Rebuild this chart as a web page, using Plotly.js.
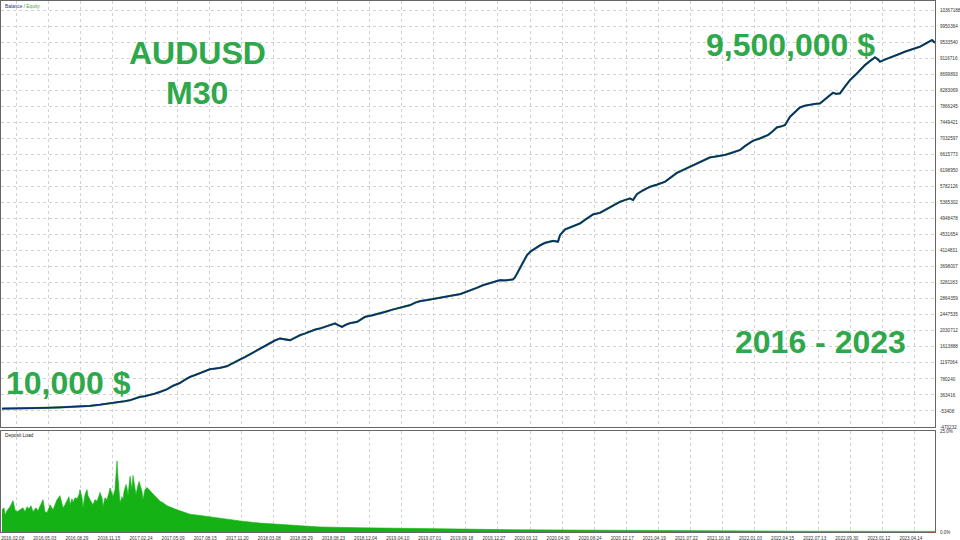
<!DOCTYPE html>
<html>
<head>
<meta charset="utf-8">
<script src="https://cdn.plot.ly/plotly-3.0.1.min.js"></script>
<style>html,body{margin:0;padding:0;background:#fff;}#chart{width:960px;height:540px;}</style>
</head>
<body>
<div id="chart"></div>
<script>
// ---- DATA ----
// trade index (sequential, as the tester chart is drawn by trade number)
const tradeIndex = [2,15,30,45,60,75,90,100,110,120,125,130,135,140,145,150,155,160,167,173,180,185,190,195,200,205,210,215,220,227,233,240,245,250,255,260,265,270,275,280,285,290,295,300,305,310,315,320,327,335,338,342,346,350,357,361,365,372,380,386,393,400,410,415,420,427,435,442,450,455,460,465,470,477,483,490,495,500,505,510,513,515,517,520,522,525,527,531,535,540,545,549,553,558,560,565,572,580,587,593,600,605,610,615,620,625,630,633,637,643,650,657,665,671,677,683,690,695,700,705,710,715,720,725,730,735,740,745,749,753,760,764,768,772,777,781,785,790,795,800,805,810,815,820,826,833,836,840,845,850,857,865,870,875,878,880,885,890,897,905,912,920,926,932,935];
const balance = [10000,12000,18000,28000,40000,55000,80000,109000,140000,182000,200000,226000,270000,312000,330000,356000,400000,442000,512000,600000,676000,760000,832000,880000,936000,990000,1032000,1050000,1066000,1110000,1200000,1284000,1350000,1422000,1500000,1570000,1650000,1708000,1780000,1830000,1810000,1786000,1850000,1916000,1960000,2020000,2060000,2090000,2150000,2220000,2180000,2132000,2190000,2228000,2262000,2330000,2392000,2430000,2480000,2530000,2584000,2630000,2696000,2760000,2800000,2830000,2865000,2900000,2930000,2950000,2982000,3030000,3073000,3150000,3216000,3268000,3300000,3346000,3340000,3350000,3365000,3420000,3520000,3660000,3780000,3900000,3996000,4100000,4170000,4250000,4316000,4350000,4368000,4347000,4517000,4665000,4740000,4820000,4950000,5055000,5096000,5170000,5245000,5320000,5382000,5430000,5471000,5427000,5583000,5680000,5772000,5830000,5902000,6020000,6136000,6210000,6292000,6350000,6415000,6480000,6537000,6555000,6571000,6600000,6641000,6690000,6727000,6831000,6900000,6969000,7031000,7080000,7117000,7200000,7317000,7340000,7377000,7593000,7720000,7837000,7880000,7910000,7925000,7941000,8080000,8217000,8190000,8201000,8380000,8547000,8720000,8937000,9040000,9137000,9080000,9023000,9080000,9137000,9200000,9283000,9340000,9413000,9500000,9587000,9517000];
const equity = [10000,12000,18000,28000,40000,55000,80000,109000,140000,182000,200000,226000,270000,312000,330000,356000,400000,442000,512000,600000,676000,760000,832000,880000,936000,990000,1032000,1050000,1066000,1110000,1200000,1284000,1350000,1422000,1500000,1570000,1650000,1708000,1780000,1830000,1810000,1786000,1850000,1916000,1960000,2020000,2060000,2090000,2150000,2220000,2180000,2132000,2190000,2228000,2262000,2330000,2392000,2430000,2480000,2530000,2584000,2630000,2696000,2760000,2800000,2830000,2865000,2900000,2930000,2950000,2982000,3030000,3073000,3150000,3216000,3268000,3300000,3346000,3340000,3350000,3365000,3420000,3520000,3660000,3780000,3900000,3996000,4100000,4170000,4250000,4316000,4350000,4368000,4347000,4517000,4665000,4740000,4820000,4950000,5055000,5096000,5170000,5245000,5320000,5382000,5430000,5471000,5427000,5583000,5680000,5772000,5830000,5902000,6020000,6136000,6210000,6292000,6350000,6415000,6480000,6537000,6555000,6571000,6600000,6641000,6690000,6727000,6831000,6900000,6969000,7031000,7080000,7117000,7200000,7317000,7340000,7377000,7593000,7720000,7837000,7880000,7910000,7925000,7941000,8080000,8217000,8190000,8201000,8380000,8547000,8720000,8937000,9040000,9137000,9080000,9023000,9080000,9137000,9200000,9283000,9340000,9413000,9500000,9587000,9517000];

// deposit load (%)
const loadIndex = [2,4,5,7,10,13,15,17,20,23,25,27,29,31,33,36,38,40,43,45,47,49,50,53,55,57,60,62,63,65,67,69,70,72,73,75,77,79,80,82,83,85,87,88,90,92,93,95,97,99,100,102,103,105,107,109,110,112,113,115,117,118,119,120,122,123,124,126,127,128,130,132,133,134,136,137,139,140,142,143,145,147,149,150,152,155,158,160,163,167,177,190,200,213,227,240,260,280,300,320,360,400,450,500,560,620,700,800,935];
const depositLoad = [5.5,6.0,4.25,5.25,6.25,7.75,5.5,5.0,5.5,6.0,5.0,6.25,5.75,6.5,5.0,6.0,5.25,6.3,8.0,5.0,4.75,6.0,6.75,5.5,7.0,8.0,9.0,7.25,6.0,6.75,7.6,8.75,6.75,8.25,7.3,8.5,8.2,9.25,10.5,8.5,6.0,9.25,10.5,9.0,8.0,7.25,6.75,8.0,7.6,9.0,9.8,8.5,6.3,8.5,8.0,9.75,10.9,9.5,8.8,10.5,17.6,13.5,9.25,7.25,8.75,8.0,10.0,11.75,10.9,9.0,13.8,10.5,14.0,12.25,9.25,10.5,12.5,11.75,10.0,8.0,10.5,11.0,10.5,10.1,9.75,8.8,8.25,7.6,7.25,6.5,5.5,4.4,4.1,3.6,3.25,2.75,2.2,1.9,1.5,1.25,1.05,0.9,0.75,0.6,0.5,0.4,0.3,0.2,0.15];

// axis ticks
const balanceTicks = [10367188,9950364,9533540,9116716,8699893,8283069,7866245,7449421,7032597,6615773,6198950,5782126,5365302,4948478,4531654,4114831,3698007,3281183,2864359,2447535,2030712,1613888,1197064,780240,363416,-53408,-470232];
const dateTickPos = [16.7,48.8,80.9,112.9,145.0,177.1,209.2,241.3,273.3,305.4,337.5,369.6,401.7,433.7,465.8,497.9,530.0,562.1,594.1,626.2,658.3,690.4,722.5,754.5,786.6,818.7,850.8,882.9,914.9];
const dateLabels = ["2016.02.08","2016.05.03","2016.08.29","2016.11.15","2017.02.24","2017.05.09","2017.08.15","2017.11.20","2018.03.08","2018.05.29","2018.08.23","2018.12.04","2019.04.10","2019.07.01","2019.09.18","2019.12.27","2020.03.12","2020.04.30","2020.08.24","2020.12.17","2021.04.19","2021.07.22","2021.10.18","2022.01.03","2022.04.15","2022.07.13","2022.09.30","2023.01.12","2023.04.14"];
const loadTicks = [0,25];
const loadTickText = ["0.0%","25.0%"];

// ---- CHART ----
const GREEN_TXT = '#2ea84a';
const tickFont = {family:'Liberation Sans, Arial, sans-serif', size:4.6, color:'#333'};

const traces = [
  {x:tradeIndex, y:equity, type:'scatter', mode:'lines', line:{color:'#44c04a', width:2.2}, xaxis:'x', yaxis:'y', hoverinfo:'skip'},
  {x:tradeIndex, y:balance, type:'scatter', mode:'lines', line:{color:'#13296e', width:1.8}, xaxis:'x', yaxis:'y'},
  {x:loadIndex, y:depositLoad, type:'scatter', mode:'lines', fill:'tozeroy', fillcolor:'#14b214', line:{color:'#14b214', width:0.6}, xaxis:'x2', yaxis:'y2'}
];

const gridCommon = {showgrid:true, gridcolor:'#d2d2d2', griddash:'dot', gridwidth:1, zeroline:false, showline:true, linecolor:'#666', linewidth:1, mirror:true, ticks:''};

const layout = {
  width:960, height:540,
  margin:{l:1, r:25, t:1, b:8},
  paper_bgcolor:'#ffffff', plot_bgcolor:'#ffffff',
  showlegend:false,
  xaxis: Object.assign({}, gridCommon, {domain:[0,1], range:[1,935], anchor:'y', tickmode:'array', tickvals:dateTickPos, showticklabels:false}),
  yaxis: Object.assign({}, gridCommon, {domain:[0.1977,1], range:[-470232,10601089], anchor:'x', side:'right', tickmode:'array', tickvals:balanceTicks, ticktext:balanceTicks.map(String), tickfont:tickFont, ticklabelstandoff:3}),
  xaxis2: Object.assign({}, gridCommon, {domain:[0,1], range:[1,935], anchor:'y2', tickmode:'array', tickvals:dateTickPos, ticktext:dateLabels, tickfont:tickFont, tickangle:0, ticklabelshift:-4, ticklabelstandoff:1}),
  yaxis2: Object.assign({}, gridCommon, {showgrid:false, domain:[0,0.1902], range:[0,25], anchor:'x2', side:'right', tickmode:'array', tickvals:loadTicks, ticktext:loadTickText, tickfont:tickFont, ticklabelstandoff:3}),
  annotations:[
    {xref:'paper', yref:'paper', x:0.002, y:0.998, xanchor:'left', yanchor:'top', showarrow:false,
     text:'<span style="color:#2a2a8a">Balance</span><span style="color:#555"> / </span><span style="color:#3aa83a">Equity</span>',
     font:{family:'Liberation Sans, Arial, sans-serif', size:4.8}},
    {xref:'paper', yref:'paper', x:0.002, y:0.1895, xanchor:'left', yanchor:'top', showarrow:false, text:'Deposit Load',
     font:{family:'Liberation Sans, Arial, sans-serif', size:4.8, color:'#222'}},
    {xref:'paper', yref:'paper', x:0.2099, y:0.902, xanchor:'center', yanchor:'middle', showarrow:false, text:'<b>AUDUSD</b>',
     font:{family:'Liberation Sans, Arial, sans-serif', size:32, color:GREEN_TXT}},
    {xref:'paper', yref:'paper', x:0.2099, y:0.8267, xanchor:'center', yanchor:'middle', showarrow:false, text:'<b>M30</b>',
     font:{family:'Liberation Sans, Arial, sans-serif', size:32, color:GREEN_TXT}},
    {xref:'paper', yref:'paper', x:0.8458, y:0.9171, xanchor:'center', yanchor:'middle', showarrow:false, text:'<b>9,500,000 $</b>',
     font:{family:'Liberation Sans, Arial, sans-serif', size:32, color:GREEN_TXT}},
    {xref:'paper', yref:'paper', x:0.8769, y:0.3578, xanchor:'center', yanchor:'middle', showarrow:false, text:'<b>2016 - 2023</b>',
     font:{family:'Liberation Sans, Arial, sans-serif', size:32, color:GREEN_TXT}},
    {xref:'paper', yref:'paper', x:0.0728, y:0.2806, xanchor:'center', yanchor:'middle', showarrow:false, text:'<b>10,000 $</b>',
     font:{family:'Liberation Sans, Arial, sans-serif', size:32, color:GREEN_TXT}}
  ]
};

Plotly.newPlot('chart', traces, layout, {displayModeBar:false, staticPlot:true});
</script>
</body>
</html>
